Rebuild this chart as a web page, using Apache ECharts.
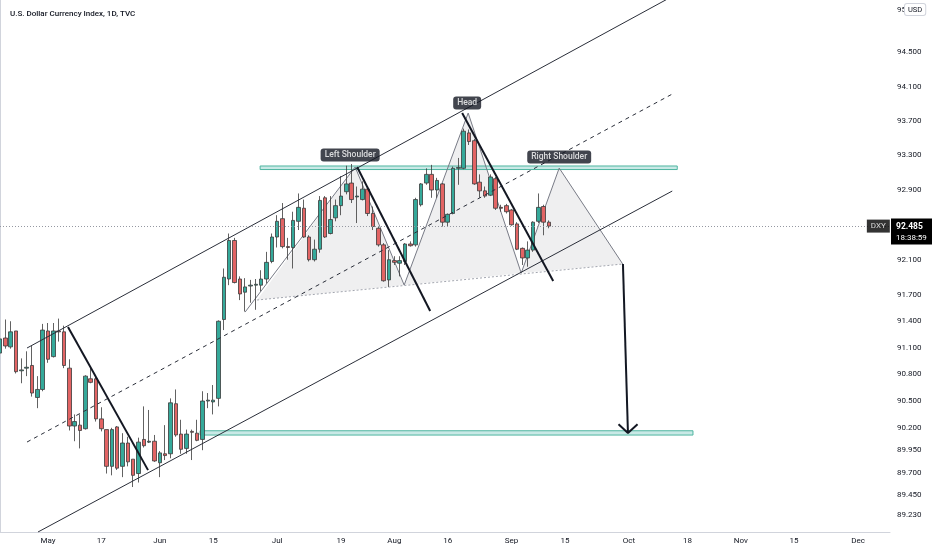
<!DOCTYPE html>
<html>
<head>
<meta charset="utf-8">
<script src="https://cdn.jsdelivr.net/npm/echarts@6/dist/echarts.min.js"></script>
<style>
html,body{margin:0;padding:0;background:#ffffff;}
#chart{width:932px;height:550px;}
</style>
</head>
<body>
<div id="chart"></div>
<script>
// ---------- data ----------
const chartTitle = 'U.S. Dollar Currency Index, 1D, TVC';
const firstSession = '2021-04-20';
const sessionCount = 168;
const dateLabels = {
  '2021-05-03':'May','2021-05-17':'17','2021-06-01':'Jun','2021-06-15':'15',
  '2021-07-01':'Jul','2021-07-19':'19','2021-08-02':'Aug','2021-08-16':'16',
  '2021-09-01':'Sep','2021-09-15':'15','2021-10-01':'Oct','2021-10-18':'18',
  '2021-11-01':'Nov','2021-11-15':'15','2021-12-01':'Dec'
};
const priceTicks = [89.23, 89.45, 89.7, 89.95, 90.2, 90.5, 90.8, 91.1, 91.4, 91.7, 92.1, 92.9, 93.3, 93.7, 94.1, 94.5, 95.0];
const priceMin = 89.042;
const priceMax = 95.115;

const opens = [91.04,91.21,91.11,91.29,90.84,90.87,90.90,90.54,90.63,91.29,
  91.00,91.29,91.28,90.87,90.22,90.23,90.19,90.75,90.75,90.30,
  90.18,89.77,90.21,89.77,90.03,89.85,89.69,90.07,90.04,90.05,
  89.81,89.91,89.91,90.47,90.13,89.97,90.16,90.14,90.07,90.50,
  90.49,90.53,91.42,91.88,92.32,91.88,91.73,91.80,91.81,91.81,
  91.88,92.08,92.36,92.57,92.25,92.24,92.54,92.69,92.36,92.10,
  92.22,92.81,92.40,92.58,92.72,92.88,92.98,92.82,92.79,92.91,
  92.63,92.46,92.27,91.87,92.09,92.06,92.08,92.28,92.27,92.73,
  92.98,93.08,92.90,92.97,92.53,92.63,93.15,93.15,93.56,93.47,
  92.99,92.89,92.84,93.03,92.70,92.72,92.67,92.51,92.23,92.12,
  92.21,92.54,92.71,92.53];
const closes = [91.20,91.12,91.28,90.83,90.85,90.88,90.59,90.63,91.30,90.97,
  91.29,91.28,90.90,90.22,90.27,90.17,90.78,90.71,90.30,90.19,
  89.77,90.18,89.75,90.03,89.82,89.67,90.04,90.00,90.05,89.83,
  89.92,89.89,90.48,90.12,89.96,90.13,90.15,90.06,90.50,90.51,
  90.51,91.40,91.90,92.32,91.84,91.71,91.79,91.81,91.82,91.88,
  92.07,92.36,92.54,92.25,92.24,92.55,92.70,92.36,92.10,92.22,
  92.78,92.36,92.56,92.72,92.83,92.97,92.79,92.83,92.91,92.63,
  92.48,92.27,91.86,92.10,92.07,92.09,92.28,92.26,92.79,92.97,
  93.08,92.90,93.01,92.53,92.62,93.15,93.16,93.58,93.46,92.97,
  92.89,92.83,93.05,92.69,92.69,92.65,92.50,92.22,92.12,92.21,
  92.53,92.70,92.53,92.485];
const lows = [91.00,91.09,91.09,90.81,90.70,90.78,90.55,90.42,90.61,90.93,
  90.99,91.17,90.87,90.17,90.05,89.97,90.18,90.70,90.27,90.16,
  89.69,89.67,89.73,89.65,89.77,89.54,89.59,89.98,90.03,89.82,
  89.65,89.84,89.86,90.10,89.91,89.91,89.84,90.05,89.95,90.42,
  90.35,90.44,91.30,91.81,91.83,91.64,91.51,91.61,91.53,91.74,
  91.83,92.06,92.24,92.23,92.10,92.00,92.44,92.35,92.08,92.08,
  92.18,92.35,92.39,92.54,92.61,92.85,92.75,92.52,92.78,92.60,
  92.44,92.25,91.85,91.79,92.04,91.91,92.04,92.25,92.25,92.71,
  92.96,92.81,92.81,92.48,92.48,92.62,92.96,93.14,93.42,92.96,
  92.81,92.81,92.83,92.67,92.65,92.63,92.49,92.21,92.04,92.02,
  92.19,92.52,92.38,92.46];
const highs = [91.25,91.42,91.40,91.29,90.98,91.06,91.12,90.78,91.37,91.38,
  91.38,91.43,91.35,90.97,90.35,90.35,90.79,90.89,90.77,90.43,
  90.18,90.20,90.22,90.14,90.10,89.85,90.09,90.44,90.40,90.12,
  89.94,90.23,90.53,90.63,90.29,90.18,90.18,90.29,90.61,90.59,
  90.68,91.41,92.00,92.40,92.35,91.91,91.89,91.87,91.88,91.98,
  92.19,92.40,92.61,92.75,92.35,92.65,92.86,92.79,92.38,92.33,
  92.83,92.83,92.83,92.79,93.06,93.18,93.20,92.94,93.00,92.94,
  92.71,92.48,92.29,92.21,92.14,92.14,92.29,92.31,92.81,92.98,
  93.15,93.19,93.04,92.98,92.63,93.17,93.27,93.61,93.60,93.49,
  93.08,92.94,93.08,93.05,92.73,92.74,92.68,92.53,92.24,92.31,
  92.54,92.86,92.73,92.55];
const countdown = '18:38:59';

// drawings: [session index, price]
const upperChannel = [[5.07, 91.097], [127.64, 95.209]];
const lowerChannel = [[7.13, 89.042], [126.14, 92.888]];
const midChannel   = [[5.07, 90.041], [126.14, 94.012]];
const trendA = [[12.76, 91.334], [27.78, 89.728]];
const trendB = [[67.01, 93.165], [80.72, 91.516]];
const trendC = [[86.72, 93.791], [103.80, 91.857]];
const hsZigzag = [[45.99, 91.504], [66.64, 93.165], [75.84, 91.811], [87.85, 93.791], [97.80, 91.948], [104.93, 93.153], [116.85, 92.051]];
const neckline = [[48.24, 91.641], [116.85, 92.051]];
const hsTriangles = [
  [48.24, 91.641, 66.64, 93.165, 75.84, 91.811],
  [75.84, 91.811, 87.85, 93.791, 97.80, 91.948],
  [97.80, 91.948, 104.93, 93.153, 116.85, 92.051]
];
const targetArrow = [[116.89, 92.051], [117.83, 90.141]];
const arrowHead = [[116.06, 90.239], [117.83, 90.141], [119.63, 90.239]];
// [x0, x1, priceLow, priceHigh]
const zones = [[48.81, 127.08, 93.136, 93.177], [37.54, 130.03, 90.119, 90.167]];
const callouts = [[65.70, 93.304, 'Left Shoulder'], [87.66, 93.908, 'Head'], [104.93, 93.281, 'Right Shoulder']];
const symbolTag = [[164.81, 92.485, 'DXY']];

// ---------- build ----------
function sessions(start, n) {
  const out = [];
  const d = new Date(start + 'T00:00:00Z');
  while (out.length < n) {
    const wd = d.getUTCDay();
    if (wd !== 0 && wd !== 6) out.push(d.toISOString().slice(0, 10));
    d.setUTCDate(d.getUTCDate() + 1);
  }
  return out;
}
const categories = sessions(firstSession, sessionCount);
const candles = opens.map((o, i) => [o, closes[i], lows[i], highs[i]]);
const lastPrice = closes[closes.length - 1];

const FONT = 'Roboto, "Liberation Sans", sans-serif';
const INK = '#131722';

function drawLine(data, color, width, type, z) {
  return {
    type: 'line', xAxisIndex: 1, yAxisIndex: 0, data: data, symbol: 'none',
    silent: true, z: z || 3, animation: false,
    lineStyle: { color: color, width: width, type: type || 'solid' }
  };
}

const chart = echarts.init(document.getElementById('chart'), null, { renderer: 'canvas' });
chart.setOption({
  animation: false,
  backgroundColor: '#ffffff',
  textStyle: { fontFamily: FONT },
  title: {
    text: chartTitle, left: 5, top: 5,
    textStyle: { fontFamily: FONT, fontSize: 8, fontWeight: 500, color: INK }
  },
  grid: { left: 0, right: 42, top: 0, bottom: 18, containLabel: false },
  xAxis: [{
    type: 'category', data: categories, boundaryGap: false,
    axisLine: { show: true, lineStyle: { color: '#d1d4dc' } },
    axisTick: { show: false },
    splitLine: { show: false },
    axisLabel: {
      interval: (i, v) => dateLabels[v] !== undefined,
      formatter: v => dateLabels[v] || '',
      color: INK, fontSize: 8, margin: 5, fontFamily: FONT
    }
  }, {
    type: 'value', min: 0, max: sessionCount - 1, show: false
  }],
  yAxis: [{
    type: 'log', logBase: 10, position: 'right', min: priceMin, max: priceMax,
    axisLine: { show: true, lineStyle: { color: '#d1d4dc' } },
    axisTick: { show: false },
    splitLine: { show: false },
    axisLabel: {
      customValues: priceTicks,
      formatter: v => Number(v).toFixed(3),
      color: INK, fontSize: 8, margin: 7, fontFamily: FONT
    }
  }],
  graphic: [{
    type: 'text', left: 904, top: 3, z: 100,
    style: {
      text: 'USD', fontSize: 7.5, fill: INK, fontFamily: FONT,
      backgroundColor: '#ffffff', borderColor: '#d1d4dc', borderWidth: 1,
      borderRadius: 2, padding: [2, 3, 1, 3]
    }
  }],
  series: [
    {
      type: 'custom', xAxisIndex: 1, yAxisIndex: 0, data: hsTriangles, silent: true, z: 1,
      encode: { x: [0, 2, 4], y: [1, 3, 5] },
      renderItem: (params, api) => {
        const pts = [0, 2, 4].map(k => api.coord([api.value(k), api.value(k + 1)]));
        return { type: 'polygon', shape: { points: pts }, style: { fill: 'rgba(120,123,134,0.12)', stroke: 'none' } };
      }
    },
    {
      type: 'custom', xAxisIndex: 1, yAxisIndex: 0, data: zones, silent: true, z: 2,
      encode: { x: [0, 1], y: [2, 3] },
      renderItem: (params, api) => {
        const a = api.coord([api.value(0), api.value(3)]);
        const b = api.coord([api.value(1), api.value(2)]);
        return { type: 'rect', shape: { x: a[0], y: a[1], width: b[0] - a[0], height: b[1] - a[1] },
          style: { fill: 'rgba(38,166,154,0.25)', stroke: '#4fb5a0', lineWidth: 1 } };
      }
    },
    drawLine(neckline, '#a3a6af', 1, [2, 2], 2),
    drawLine(hsZigzag, '#787b86', 1, 'solid', 3),
    {
      type: 'candlestick', xAxisIndex: 0, yAxisIndex: 0, data: candles, barWidth: 4, z: 4,
      silent: true,
      itemStyle: {
        color: '#35a99a', color0: '#e26464',
        borderColor: '#3a3a3a', borderColor0: '#3a3a3a', borderWidth: 0.8
      },
      markLine: {
        silent: true, symbol: ['none', 'none'], animation: false,
        lineStyle: { color: '#9598a1', type: [1, 2], width: 1 },
        label: {
          show: true, position: 'end', distance: 1, offset: [0, 5],
          formatter: '{a|' + lastPrice.toFixed(3) + '}\n{b|' + countdown + '}',
          backgroundColor: '#000000', padding: [3, 6, 2, 5],
          rich: {
            a: { color: '#ffffff', fontSize: 8.5, fontWeight: 'bold', fontFamily: FONT, lineHeight: 11 },
            b: { color: '#ffffff', fontSize: 8, fontFamily: FONT, lineHeight: 10 }
          }
        },
        data: [{ yAxis: lastPrice }]
      }
    },
    drawLine(upperChannel, '#2a2e39', 1, 'solid', 5),
    drawLine(lowerChannel, '#2a2e39', 1, 'solid', 5),
    drawLine(midChannel, '#2a2e39', 1, [4, 4], 5),
    drawLine(trendA, INK, 2, 'solid', 6),
    drawLine(trendB, INK, 2, 'solid', 6),
    drawLine(trendC, INK, 2, 'solid', 6),
    drawLine(targetArrow, INK, 2, 'solid', 6),
    drawLine(arrowHead, INK, 2, 'solid', 6),
    {
      type: 'scatter', xAxisIndex: 1, yAxisIndex: 0, data: callouts, symbolSize: 1, z: 8, silent: true,
      itemStyle: { color: 'rgba(0,0,0,0)' },
      label: {
        show: true, position: 'inside', formatter: p => p.data[2],
        backgroundColor: INK, color: '#ffffff', padding: [2, 4, 2, 4], borderRadius: 3,
        fontSize: 8.5, fontWeight: 500, fontFamily: FONT
      }
    },
    {
      type: 'scatter', xAxisIndex: 1, yAxisIndex: 0, data: symbolTag, symbolSize: 1, z: 8, silent: true,
      itemStyle: { color: 'rgba(0,0,0,0)' },
      label: {
        show: true, position: 'inside', formatter: p => p.data[2],
        backgroundColor: '#000000', color: '#ffffff', padding: [3, 4, 2, 4],
        fontSize: 8, fontFamily: FONT
      }
    }
  ]
});
</script>
</body>
</html>
